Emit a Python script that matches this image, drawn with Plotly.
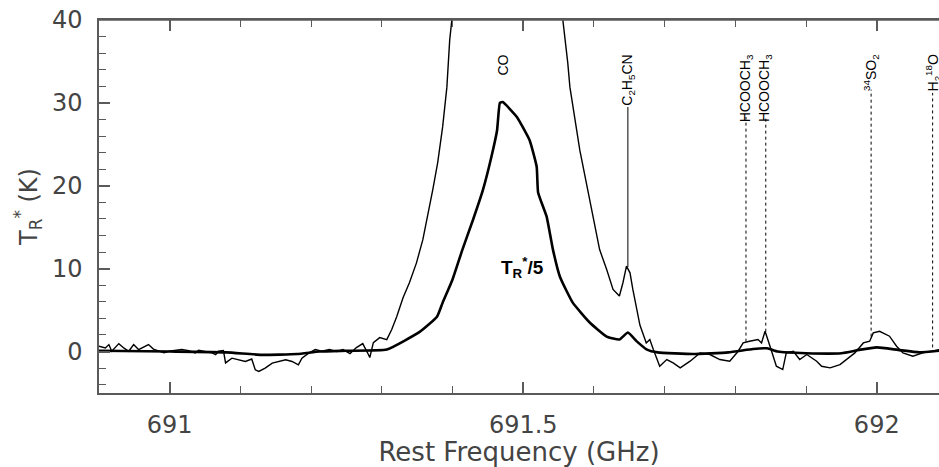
import plotly.graph_objects as go

# ---- thin spectrum: T_R* (K) ----
freq_full = [690.900, 690.909, 690.914, 690.918, 690.928, 690.935, 690.942, 690.949, 690.956, 690.966,
             690.970, 690.977, 690.984, 690.992, 690.999, 691.008, 691.017, 691.027, 691.036, 691.041,
             691.050, 691.060, 691.065, 691.069, 691.076, 691.079, 691.088, 691.098, 691.107, 691.116,
             691.121, 691.126, 691.135, 691.145, 691.154, 691.164, 691.173, 691.182, 691.187, 691.197,
             691.206, 691.215, 691.226, 691.236, 691.245, 691.255, 691.264, 691.273, 691.281, 691.283,
             691.288, 691.297, 691.307, 691.314, 691.321, 691.330, 691.339, 691.349, 691.358, 691.365,
             691.372, 691.379, 691.386, 691.392, 691.396, 691.399, 691.420, 691.470, 691.520, 691.556,
             691.563, 691.566, 691.580, 691.589, 691.599, 691.608, 691.618, 691.627, 691.636, 691.641,
             691.646, 691.651, 691.655, 691.665, 691.674, 691.679, 691.684, 691.693, 691.703, 691.712,
             691.722, 691.736, 691.750, 691.764, 691.778, 691.792, 691.804, 691.811, 691.820, 691.832,
             691.837, 691.842, 691.849, 691.853, 691.858, 691.867, 691.872, 691.882, 691.891, 691.901,
             691.915, 691.922, 691.934, 691.948, 691.957, 691.969, 691.981, 691.990, 691.995, 692.004,
             692.018, 692.028, 692.037, 692.051, 692.065, 692.080, 692.089]
temp_full = [0.64, 0.44, 0.84, 0.04, 0.96, 0.44, 0.04, 0.84, 0.24, 0.64,
             0.84, 0.30, 0.04, -0.16, 0.04, 0.16, 0.24, 0.12, -0.16, 0.16,
             0.04, -0.16, -0.36, 0.04, 0.12, -1.37, -0.80, -1.00, -1.20, -0.90,
             -2.20, -2.40, -2.00, -1.40, -1.20, -1.00, -1.20, -1.60, -0.80, -0.16,
             0.24, 0.04, 0.24, 0.00, 0.24, -0.24, 0.48, 0.96, -0.36, -0.72,
             1.08, 1.68, 1.44, 2.65, 4.20, 6.50, 8.30, 10.7, 13.5, 16.3,
             19.5, 22.8, 27.1, 31.9, 37.6, 40.0, 70.0, 150.0, 90.0, 40.0,
             34.8, 31.9, 24.3, 20.3, 16.3, 12.3, 9.9, 7.5, 6.7, 8.3,
             10.3, 9.5, 7.5, 3.2, 1.04, 1.45, 0.24, -1.77, -0.96, -1.37,
             -1.97, -1.16, -0.16, -0.36, -0.96, -1.16, 0.04, 1.04, 1.24, 1.45,
             1.04, 2.45, 0.64, -0.56, -1.77, -2.17, -0.16, 0.04, -0.96, -0.36,
             -1.16, -1.77, -1.97, -1.57, -0.96, -0.16, 1.04, 1.24, 2.25, 2.45,
             1.85, 0.64, -0.16, -0.56, -0.16, 0.04, 0.24]

# ---- thick spectrum: T_R*/5 ----
freq_div5 = [690.900, 691.000, 691.080, 691.130, 691.180, 691.212, 691.250, 691.307, 691.354, 691.378,
             691.386, 691.400, 691.414, 691.429, 691.443, 691.455, 691.463, 691.467, 691.471, 691.491,
             691.509, 691.519, 691.521, 691.533, 691.542, 691.552, 691.570, 691.594, 691.618, 691.636,
             691.648, 691.661, 691.675, 691.690, 691.740, 691.790, 691.825, 691.845, 691.860, 691.900,
             691.950, 691.975, 692.000, 692.030, 692.060, 692.089]
temp_div5 = [0.10, 0.00, -0.10, -0.40, -0.30, 0.00, 0.10, 0.24, 2.40, 4.20,
             5.90, 8.70, 12.3, 15.9, 19.5, 23.5, 26.7, 30.0, 30.1, 28.3,
             25.5, 22.3, 19.2, 16.3, 12.3, 9.0, 5.9, 3.5, 1.8, 1.45,
             2.3, 1.2, 0.24, -0.10, -0.30, -0.10, 0.30, 0.40, 0.00, -0.20,
             -0.20, 0.20, 0.50, 0.20, -0.10, 0.10]

# ---- line identifications ----
line_labels = ["C<sub>2</sub>H<sub>5</sub>CN", "HCOOCH<sub>3</sub>", "HCOOCH<sub>3</sub>",
               "<sup>34</sup>SO<sub>2</sub>", "H<sub>2</sub><sup>18</sup>O"]
line_freqs = [691.648, 691.815, 691.843, 691.992, 692.079]
line_tops = [29.5, 28.3, 28.3, 31.6, 31.2]
line_bottoms = [10.2, 1.2, 2.4, 1.8, 0.5]
line_dashes = ["solid", "dot", "dot", "dot", "dot"]
co_label, co_freq = "CO", 691.471
label_top = 36.1

x_range = [690.9, 692.088]
x_ticks = [691, 691.5, 692]
x_ticklabels = ["691", "691.5", "692"]
y_ticks = [0, 10, 20, 30, 40]

axis_color = "#5a5a5a"
text_color = "#444444"
font_main = "DejaVu Sans"

fig = go.Figure()
fig.add_trace(go.Scatter(x=freq_full, y=temp_full, mode="lines",
                         line=dict(color="black", width=1.4), showlegend=False))
fig.add_trace(go.Scatter(x=freq_div5, y=temp_div5, mode="lines",
                         line=dict(color="black", width=2.6, shape="spline", smoothing=0.4),
                         showlegend=False))
for f, t, b, d in zip(line_freqs, line_tops, line_bottoms, line_dashes):
    fig.add_trace(go.Scatter(x=[f, f], y=[b, t], mode="lines",
                             line=dict(color="black", width=1, dash=d), showlegend=False))
# empty trace that only activates the top frame axis
fig.add_trace(go.Scatter(x=x_ticks, y=[None] * len(x_ticks), xaxis="x2", yaxis="y",
                         mode="lines", showlegend=False, hoverinfo="skip"))

annotations = []
for lab, f in zip(line_labels + [co_label], line_freqs + [co_freq]):
    annotations.append(dict(x=f, y=label_top, xref="x", yref="y", text=lab, showarrow=False,
                            textangle=-90, xanchor="center", yanchor="top",
                            font=dict(family="Liberation Sans Narrow, Liberation Sans, Arial", size=14, color="black")))
annotations.append(dict(x=691.499, y=10.1, xref="x", yref="y",
                        text="<b>T<sub>R</sub><sup>*</sup>/5</b>", showarrow=False,
                        font=dict(family="Liberation Sans, Arial", size=19, color="black")))

fig.update_layout(
    width=939, height=467,
    margin=dict(l=99, r=0, t=20, b=74, autoexpand=False),
    paper_bgcolor="white", plot_bgcolor="white",
    font=dict(family=font_main, color=text_color),
    annotations=annotations,
    xaxis=dict(range=x_range, tickvals=x_ticks, ticktext=x_ticklabels, automargin=False,
               showgrid=False, zeroline=False, showline=True, linecolor=axis_color, linewidth=1.5,
               mirror=False, ticks="inside", ticklen=11, tickwidth=1.5, tickcolor=axis_color,
               tickfont=dict(size=24, color=text_color), ticklabelstandoff=9,
               minor=dict(dtick=0.1, tick0=691, ticks="inside", ticklen=7, tickwidth=1.2,
                          tickcolor=axis_color, showgrid=False),
               title=dict(text="Rest Frequency (GHz)", font=dict(size=26, color=text_color), standoff=2)),
    # top frame with inward ticks
    xaxis2=dict(overlaying="x", side="top", anchor="y", range=x_range, tickvals=x_ticks,
                showticklabels=False, automargin=False, showgrid=False, zeroline=False,
                showline=True, linecolor=axis_color, linewidth=1.5,
                ticks="inside", ticklen=11, tickwidth=1.5, tickcolor=axis_color,
                minor=dict(dtick=0.1, tick0=691, ticks="inside", ticklen=7, tickwidth=1.2,
                           tickcolor=axis_color, showgrid=False)),
    yaxis=dict(range=[-5, 40], tickvals=y_ticks, automargin=False,
               showgrid=False, zeroline=False, showline=True, linecolor=axis_color, linewidth=1.5,
               mirror=False, ticks="inside", ticklen=11, tickwidth=1.5, tickcolor=axis_color,
               tickfont=dict(size=24, color=text_color), ticklabelstandoff=10,
               minor=dict(dtick=2, tick0=0, ticks="inside", ticklen=7, tickwidth=1.2,
                          tickcolor=axis_color, showgrid=False),
               title=dict(text="T<sub>R</sub><sup>*</sup> (K)", font=dict(size=24, color=text_color), standoff=8)),
    shapes=[dict(type="line", xref="paper", yref="paper", x0=0, x1=1, y0=1, y1=1,
                 line=dict(color=axis_color, width=1.5), layer="above")],
)

# the page body's default 8px margin would shift the figure; remove it
fig.write_html("out.html", config={"displayModeBar": False},
               post_script="document.body.style.margin='0';")
